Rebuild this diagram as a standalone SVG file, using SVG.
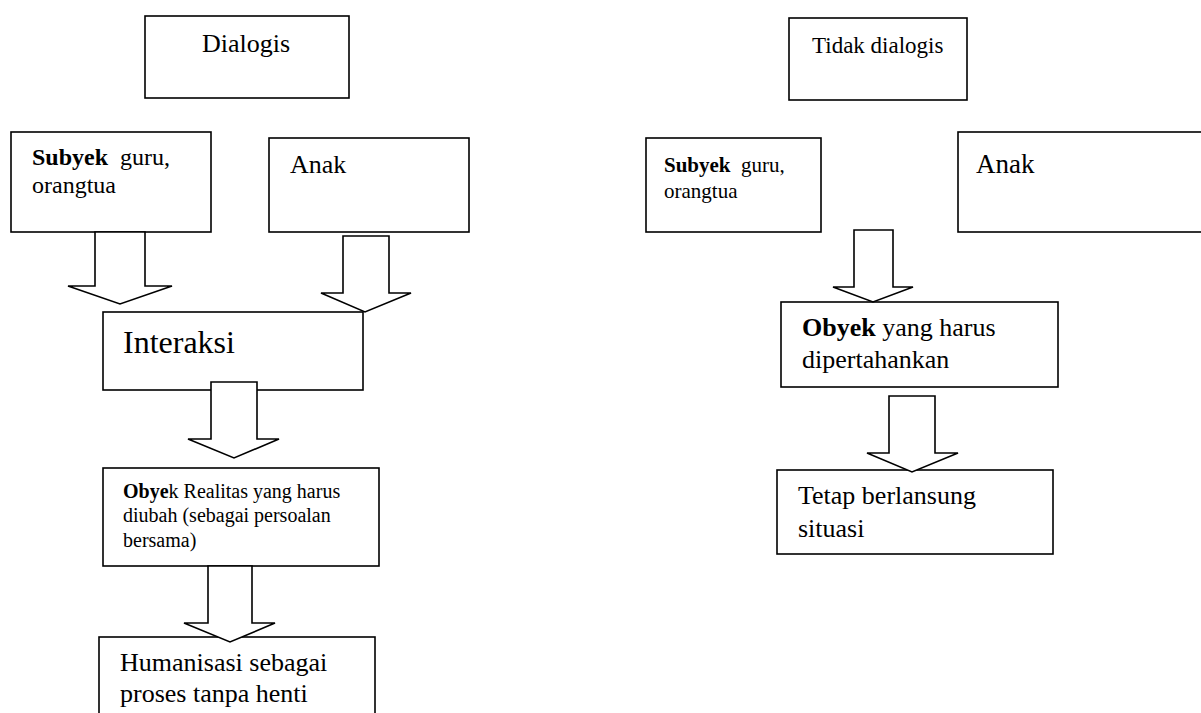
<svg xmlns="http://www.w3.org/2000/svg" width="1201" height="713" viewBox="0 0 1201 713">
<style>
.box{fill:#fff;stroke:#000;stroke-width:1.6}
.arr{fill:#fff;stroke:#000;stroke-width:1.6;stroke-linejoin:miter}
text{font-family:"Liberation Serif","Times New Roman",serif;fill:#000}
.b{font-weight:bold}
</style>
<rect width="1201" height="713" fill="#fff"/>
<g id="dialogis"><rect class="box" x="145" y="16" width="204" height="82"/><text x="202" y="52" font-size="26">Dialogis</text></g>
<g id="subyek-left"><rect class="box" x="11" y="132" width="200" height="100"/><text x="32" y="165" font-size="24"><tspan class="b">Subyek</tspan><tspan x="120">guru,</tspan><tspan x="32" y="193">orangtua</tspan></text></g>
<g id="anak-left"><rect class="box" x="269" y="138" width="200" height="94"/><text x="290" y="173" font-size="26">Anak</text></g>
<g id="interaksi"><rect class="box" x="103" y="312" width="260" height="78"/><text x="123" y="353" font-size="32">Interaksi</text></g>
<g id="obyek-left"><rect class="box" x="103" y="468" width="276" height="98"/><text x="123" y="498" font-size="20"><tspan class="b">Obye</tspan>k Realitas yang harus<tspan x="123" y="522">diubah (sebagai persoalan</tspan><tspan x="123" y="547">bersama)</tspan></text></g>
<g id="humanisasi"><rect class="box" x="99" y="637" width="276" height="90"/><text x="120" y="671" font-size="26">Humanisasi sebagai<tspan x="120" y="702">proses tanpa henti</tspan></text></g>
<g id="tidak-dialogis"><rect class="box" x="789" y="18" width="178" height="82"/><text x="812" y="53" font-size="23">Tidak dialogis</text></g>
<g id="subyek-right"><rect class="box" x="646" y="138" width="175" height="94"/><text x="664" y="172" font-size="21"><tspan class="b">Subyek</tspan><tspan x="741">guru,</tspan><tspan x="664" y="198">orangtua</tspan></text></g>
<g id="anak-right"><rect class="box" x="958" y="132" width="260" height="100"/><text x="976" y="173" font-size="27">Anak</text></g>
<g id="obyek-right"><rect class="box" x="781" y="302" width="277" height="85"/><text x="802" y="336" font-size="26"><tspan class="b">Obyek</tspan> yang harus<tspan x="802" y="368">dipertahankan</tspan></text></g>
<g id="tetap"><rect class="box" x="777" y="470" width="276" height="84"/><text x="798" y="504" font-size="26">Tetap berlansung<tspan x="798" y="537">situasi</tspan></text></g>
<g id="connectors">
<polygon class="arr" points="95,232 145,232 145,286 172,286 120,304 68,286 95,286"/>
<polygon class="arr" points="343,236 389,236 389,293 411,293 365,312 321,293 343,293"/>
<polygon class="arr" points="211,382 257,382 257,439 279,439 234,458 188,439 211,439"/>
<polygon class="arr" points="208,566 252,566 252,623 275,623 230,642 184,623 208,623"/>
<polygon class="arr" points="854,230 893,230 893,287 913,287 873,302 833,287 854,287"/>
<polygon class="arr" points="889,396 935,396 935,453 958,453 912,472 867,453 889,453"/>
</g>
</svg>
